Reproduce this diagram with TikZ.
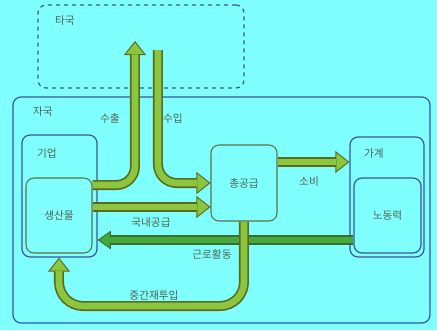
\documentclass[tikz,border=0pt]{standalone}
\usepackage{fontspec}
\setmainfont{Noto Sans CJK KR}
\usetikzlibrary{arrows.meta}
\definecolor{bg}{HTML}{80FFFF}
\definecolor{boxblue}{HTML}{3A55A0}
\definecolor{boxolive}{HTML}{5F7040}
\definecolor{agreen}{HTML}{8CC63F}
\definecolor{aedge}{HTML}{5A6B1E}
\definecolor{dgreen}{HTML}{45AA3C}
\definecolor{dedge}{HTML}{3C6E2A}
\definecolor{txt}{HTML}{4F6450}
\begin{document}
\begin{tikzpicture}[x=0.75pt,y=-0.75pt,
  font=\fontsize{8pt}{9.5pt}\selectfont,
  box/.style={draw=boxblue, line width=0.9pt, rounded corners=6pt, inner sep=0pt},
  ibox/.style={draw=boxolive, line width=0.8pt, rounded corners=6pt, inner sep=0pt, text=txt},
  lbl/.style={text=txt, inner sep=1pt},
  flow/.style={line width=7.5pt, draw=aedge, rounded corners=14pt,
    -{Triangle[length=10.5pt,width=16.5pt,fill=agreen,color=aedge,line width=0.7pt]},
    postaction={draw=agreen, line width=5pt, -, shorten >=10pt}},
  dflow/.style={line width=7.5pt, draw=dedge,
    -{Triangle[length=10pt,width=14pt,fill=dgreen,color=dedge,line width=0.7pt]},
    postaction={draw=dgreen, line width=5pt, -, shorten >=9.5pt}}
]
\fill[bg] (0,0) rectangle (437,330);
\useasboundingbox (0,0) rectangle (437,330);

% boxes
\node[box, dashed, minimum width=154.5pt, minimum height=62.25pt] (foreign) at (141,46.5) {};
\node[box, minimum width=312.75pt, minimum height=169.5pt] (home) at (221.5,210) {};
\node[box, minimum width=56.25pt, minimum height=91.5pt] (firm) at (59.5,196) {};
\node[ibox, minimum width=49.5pt, minimum height=56.25pt] (prod) at (59,215.5) {생산물};
\node[ibox, minimum width=49.5pt, minimum height=57pt] (supply) at (244,183) {총공급};
\node[box, minimum width=55.5pt, minimum height=90pt] (house) at (387,197) {};
\node[box, minimum width=50.25pt, minimum height=56.25pt, text=txt] (labor) at (387.5,215.5) {노동력};

% box titles
\node[lbl] (tforeign) at (65,20) {타국};
\node[lbl] (thome) at (43,111) {자국};
\node[lbl] (tfirm) at (47,153) {기업};
\node[lbl] (thouse) at (374,153) {가계};

% free ends
\coordinate (exptip) at (135,41);
\coordinate (impstart) at (158,50);

% arrows
\draw[flow] (prod.east |- 0,185) -| (exptip);
\draw[flow] (impstart) |- (supply.west |- 0,183);
\draw[flow] (prod.east |- 0,207) -- (supply.west |- 0,207);
\draw[flow] (supply.east |- 0,162) -- (house.west |- 0,162);
\draw[dflow] (labor.west |- 0,240) -- (firm.east |- 0,240);
\draw[flow, rounded corners=18pt] (supply.south) |- (prod.south |- 0,306) -- (firm.south -| prod.south);

% arrow labels
\node[lbl] (lexp) at (110,118) {수출};
\node[lbl] (limp) at (173,118) {수입};
\node[lbl] (ldom) at (151,222) {국내공급};
\node[lbl] (lcons) at (309,182) {소비};
\node[lbl] (llab) at (212,254) {근로활동};
\node[lbl] (lint) at (154,295) {중간재투입};
\end{tikzpicture}
\end{document}
